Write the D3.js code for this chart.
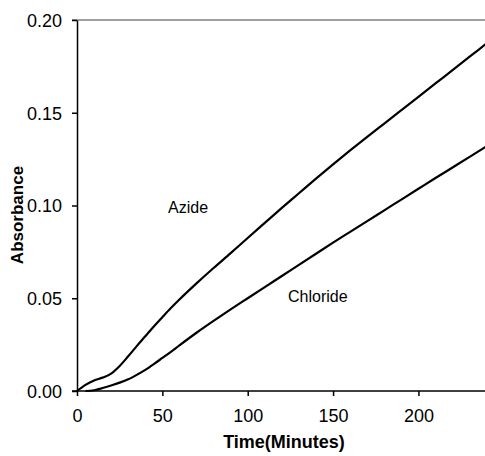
<!DOCTYPE html>
<html>
<head>
<meta charset="utf-8">
<script src="https://cdn.jsdelivr.net/npm/d3@7"></script>
<style>
  body { margin: 0; background: #fff; }
  svg { display: block; font-family: Arial, "Liberation Sans", sans-serif; }
</style>
</head>
<body>
<svg class="chart" width="485" height="456"></svg>
<script>
// data
var xTicks = [0, 50, 100, 150, 200];
var yTicks = [0, 0.05, 0.10, 0.15, 0.20];

var azideTime = [0, 5, 10, 15, 20, 25, 30, 35, 40, 45, 50, 55, 60, 70, 80, 90, 100, 110, 120, 130, 140, 150, 160, 170, 180, 190, 200, 210, 220, 230, 240];
var azideAbs  = [0, 0.0033, 0.0057, 0.0072, 0.0094, 0.0135, 0.0187, 0.0242, 0.0295, 0.0348, 0.0398, 0.0447, 0.0493, 0.0580, 0.0663, 0.0743, 0.0825, 0.0906, 0.0987, 0.1066, 0.1145, 0.1222, 0.1297, 0.1370, 0.1442, 0.1514, 0.1586, 0.1658, 0.1730, 0.1802, 0.1874];

var chlorideTime = [5, 10, 15, 20, 25, 30, 35, 40, 45, 50, 55, 60, 70, 80, 90, 100, 110, 120, 130, 140, 150, 160, 170, 180, 190, 200, 210, 220, 230, 240];
var chlorideAbs  = [0, 0.0004, 0.0016, 0.003, 0.0045, 0.0063, 0.0087, 0.0114, 0.0145, 0.0178, 0.0211, 0.0246, 0.0314, 0.0378, 0.0440, 0.0500, 0.0560, 0.0620, 0.0680, 0.0740, 0.0800, 0.0858, 0.0916, 0.0974, 0.1032, 0.1090, 0.1148, 0.1205, 0.1262, 0.1320];

var svg = d3.select(".chart");

var x = d3.scaleLinear().domain([0, 240]).range([77, 486.7]);
var y = d3.scaleLinear().domain([0, 0.20]).range([391, 20]);

// top frame line
svg.append("line")
    .attr("x1", 72).attr("x2", 485)
    .attr("y1", y(0.20)).attr("y2", y(0.20))
    .attr("stroke", "#808080")
    .attr("stroke-width", 1.5);

// x axis
var xAxis = svg.append("g")
    .attr("transform", "translate(0," + y(0) + ")")
    .call(d3.axisBottom(x).tickValues(xTicks).tickSize(5).tickSizeOuter(0).tickFormat(d3.format("d")));
xAxis.select(".domain").attr("d", "M72,0H485").attr("stroke-width", 1.5);

// y axis
var yAxis = svg.append("g")
    .attr("transform", "translate(" + x(0) + ",0)")
    .call(d3.axisLeft(y).tickValues(yTicks).tickSize(5).tickSizeOuter(0).tickFormat(d3.format(".2f")));
yAxis.select(".domain").attr("stroke-width", 1.5);

svg.selectAll(".tick line").attr("stroke-width", 1.5);
svg.selectAll(".tick text")
    .attr("font-family", "Arial, 'Liberation Sans', sans-serif")
    .attr("font-size", 18)
    .attr("fill", "#000");
xAxis.selectAll(".tick text").attr("dy", null).attr("y", 31);
yAxis.selectAll(".tick text").attr("x", -15).attr("dy", "0.36em");

// curves
var line = d3.line()
    .x(function(d) { return x(d[0]); })
    .y(function(d) { return y(d[1]); })
    .curve(d3.curveMonotoneX);

var series = [
    d3.zip(azideTime, azideAbs),
    d3.zip(chlorideTime, chlorideAbs)
];

svg.selectAll(".curve")
    .data(series)
    .enter().append("path")
    .attr("class", "curve")
    .attr("d", line)
    .attr("fill", "none")
    .attr("stroke", "#000")
    .attr("stroke-width", 2.2);

// labels
svg.append("text")
    .attr("x", 168).attr("y", 213)
    .attr("font-size", 16)
    .text("Azide");

svg.append("text")
    .attr("x", 288).attr("y", 302)
    .attr("font-size", 16)
    .text("Chloride");

svg.append("text")
    .attr("x", 284).attr("y", 448)
    .attr("text-anchor", "middle")
    .attr("font-size", 18)
    .attr("font-weight", "bold")
    .text("Time(Minutes)");

svg.append("text")
    .attr("transform", "translate(23,215) rotate(-90)")
    .attr("text-anchor", "middle")
    .attr("font-size", 17)
    .attr("font-weight", "bold")
    .text("Absorbance");
</script>
</body>
</html>
